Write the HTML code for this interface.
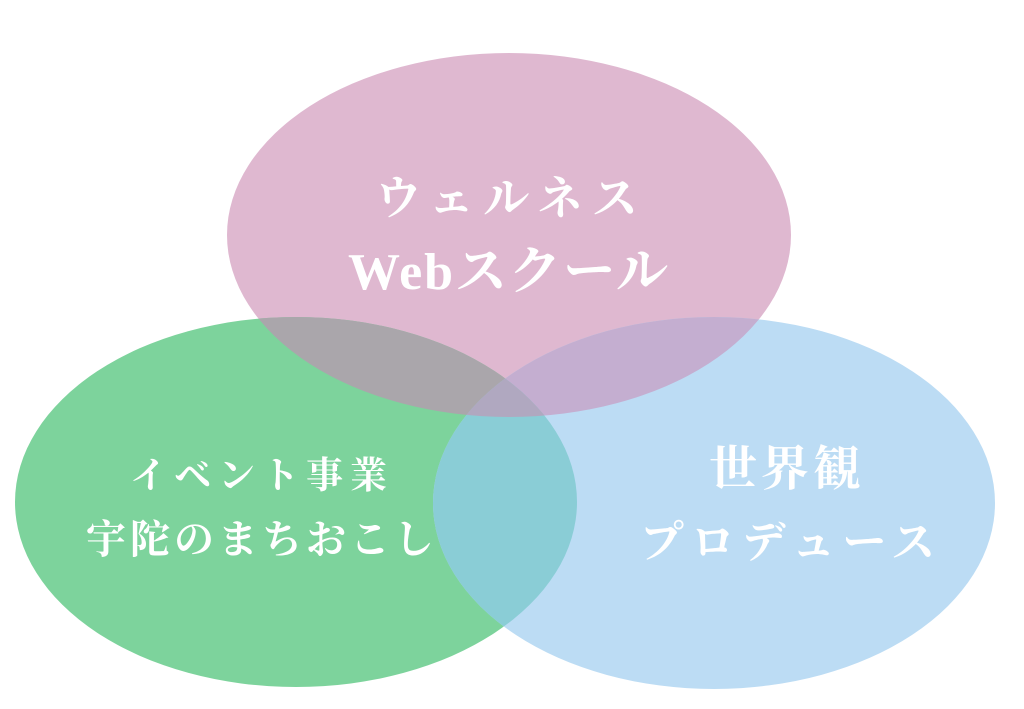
<!DOCTYPE html>
<html><head><meta charset="utf-8"><style>
html,body{margin:0;padding:0;background:#fff;}
svg{display:block;}
text{font-family:"Liberation Serif","Noto Serif CJK SC","Noto Serif CJK JP",serif;font-weight:bold;fill:#fff;text-anchor:middle;}
</style></head><body>
<svg width="1024" height="709" viewBox="0 0 1024 709" xmlns="http://www.w3.org/2000/svg">
<defs>
<clipPath id="cp"><ellipse cx="509" cy="235" rx="282" ry="182"/></clipPath>
<clipPath id="cg"><ellipse cx="296" cy="502" rx="281" ry="185"/></clipPath>
</defs>
<ellipse cx="509" cy="235" rx="282" ry="182" fill="#dfb8d0"/>
<ellipse cx="296" cy="502" rx="281" ry="185" fill="#7dd39c"/>
<ellipse cx="714" cy="503" rx="281" ry="186" fill="#bcdcf4"/>
<ellipse cx="296" cy="502" rx="281" ry="185" fill="#aaa6ab" clip-path="url(#cp)"/>
<ellipse cx="714" cy="503" rx="281" ry="186" fill="#c4aed0" clip-path="url(#cp)"/>
<ellipse cx="714" cy="503" rx="281" ry="186" fill="#8acdd6" clip-path="url(#cg)"/>
<g clip-path="url(#cp)"><ellipse cx="714" cy="503" rx="281" ry="186" fill="#b0a8c0" clip-path="url(#cg)"/></g>
<g font-size="20" style="fill:#e6e6e6;font-weight:normal">
<text x="40" y="45">∩ ⌐б</text><text x="40" y="72">卌 ⌐∧</text>
<text x="905" y="45">∩ ⌐б</text><text x="905" y="72">卌 ⌐∧</text>
</g>
<text x="511" y="214" font-size="46" letter-spacing="9">ウェルネス</text>
<text x="509" y="289" font-size="52" letter-spacing="2">Webスクール</text>
<text x="262" y="488" font-size="37" letter-spacing="7">イベント事業</text>
<text x="262" y="553" font-size="40" letter-spacing="4">宇陀のまちおこし</text>
<text x="787" y="485" font-size="48" letter-spacing="4">世界観</text>
<text x="791" y="557" font-size="44" letter-spacing="7">プロデュース</text>
</svg>
</body></html>
